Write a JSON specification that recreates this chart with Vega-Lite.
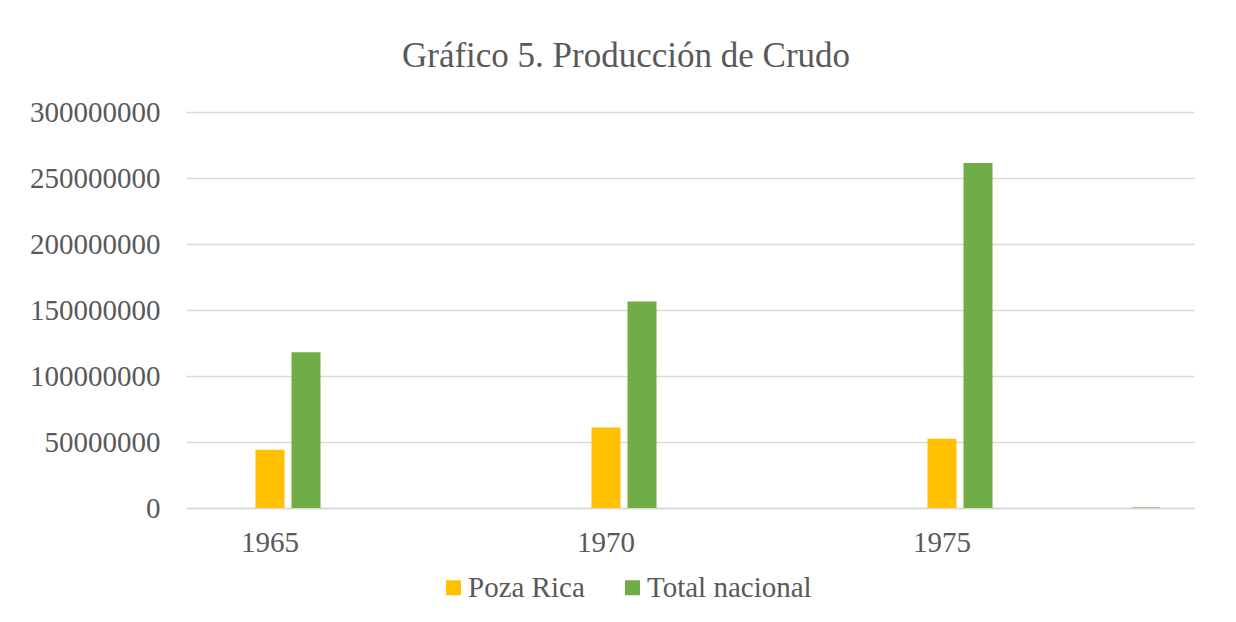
{
  "$schema": "https://vega.github.io/schema/vega-lite/v6.json",
  "autosize": {"type": "none"},
  "width": 1008,
  "height": 396,
  "padding": {"left": 186, "top": 112, "right": 42, "bottom": 114},
  "background": "white",
  "title": {
    "text": "Gráfico 5. Producción de Crudo",
    "font": "Liberation Serif",
    "fontSize": 35,
    "fontWeight": "normal",
    "color": "#595959",
    "anchor": "middle",
    "dx": -64,
    "offset": 24
  },
  "data": {
    "values": [
      {"cat": "1965", "serie": "Poza Rica", "valor": 44200000},
      {"cat": "1965", "serie": "Total nacional", "valor": 118000000},
      {"cat": "c2", "serie": "Poza Rica", "valor": 0},
      {"cat": "c2", "serie": "Total nacional", "valor": 0},
      {"cat": "1970", "serie": "Poza Rica", "valor": 61000000},
      {"cat": "1970", "serie": "Total nacional", "valor": 156500000},
      {"cat": "c4", "serie": "Poza Rica", "valor": 0},
      {"cat": "c4", "serie": "Total nacional", "valor": 0},
      {"cat": "1975", "serie": "Poza Rica", "valor": 52500000},
      {"cat": "1975", "serie": "Total nacional", "valor": 261300000},
      {"cat": "c6", "serie": "Poza Rica", "valor": 0},
      {"cat": "c6", "serie": "Total nacional", "valor": 400000}
    ]
  },
  "mark": {"type": "bar"},
  "encoding": {
    "x": {
      "field": "cat",
      "type": "nominal",
      "sort": null,
      "scale": {"paddingInner": 0, "paddingOuter": 0},
      "axis": {
        "title": null,
        "labelAngle": 0,
        "labelExpr": "datum.label[0] == 'c' ? '' : datum.label",
        "labelFont": "Liberation Serif",
        "labelFontSize": 29,
        "labelColor": "#595959",
        "labelPadding": 20,
        "ticks": false,
        "domainColor": "#d9d9d9",
        "domainWidth": 1.5,
        "grid": false
      }
    },
    "xOffset": {
      "field": "serie",
      "type": "nominal",
      "scale": {"domain": ["_", "Poza Rica", "Total nacional"], "paddingInner": 0.194, "paddingOuter": 0.93}
    },
    "y": {
      "field": "valor",
      "type": "quantitative",
      "scale": {"domain": [0, 300000000], "nice": false},
      "axis": {
        "title": null,
        "values": [0, 50000000, 100000000, 150000000, 200000000, 250000000, 300000000],
        "format": "d",
        "labelFont": "Liberation Serif",
        "labelFontSize": 29,
        "labelColor": "#595959",
        "labelPadding": 26,
        "ticks": false,
        "domain": false,
        "gridColor": "#d9d9d9",
        "gridWidth": 1.3
      }
    },
    "color": {
      "field": "serie",
      "type": "nominal",
      "scale": {"domain": ["Poza Rica", "Total nacional"], "range": ["#FFC000", "#70AD47"]},
      "legend": {
        "title": null,
        "orient": "none",
        "direction": "horizontal",
        "legendX": 253,
        "legendY": 461,
        "symbolType": "square",
        "symbolSize": 225,
        "symbolStrokeWidth": 0,
        "labelFont": "Liberation Serif",
        "labelFontSize": 29,
        "labelColor": "#595959",
        "labelLimit": 400,
        "labelOffset": 0,
        "columnPadding": 33
      }
    }
  },
  "config": {"view": {"stroke": null}, "font": "Liberation Serif"}
}
